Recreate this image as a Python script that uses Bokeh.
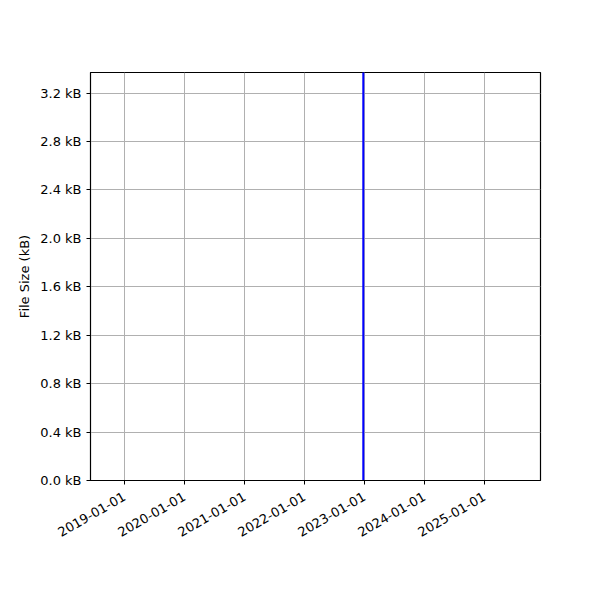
import math
from datetime import datetime
from bokeh.plotting import figure
from bokeh.models import (Range1d, FixedTicker, DatetimeTickFormatter, PrintfTickFormatter)
from bokeh.embed import file_html
from bokeh.resources import INLINE

# data
dates = [datetime(2022, 12, 25), datetime(2022, 12, 25)]
sizes_kb = [0.0, 3.5]
x_tick_labels = ["2019-01-01", "2020-01-01", "2021-01-01", "2022-01-01",
                 "2023-01-01", "2024-01-01", "2025-01-01"]
y_ticks = [0.0, 0.4, 0.8, 1.2, 1.6, 2.0, 2.4, 2.8, 3.2]

def ms(d):
    return (d - datetime(1970, 1, 1)).total_seconds() * 1000.0

x_ticks = [ms(datetime.strptime(s, "%Y-%m-%d")) for s in x_tick_labels]

p = figure(x_axis_type="datetime", output_backend="svg", toolbar_location=None,
           frame_width=450, frame_height=408,
           min_border_left=90, min_border_right=44, min_border_top=72, min_border_bottom=104,
           x_range=Range1d(ms(datetime(2018, 6, 8)), ms(datetime(2025, 12, 8))),
           y_range=Range1d(0, 3.37))

p.line(x=dates, y=sizes_kb, line_color="#0000ff", line_width=2)

p.outline_line_color = "black"
p.outline_line_width = 1.2
p.background_fill_color = "white"
p.border_fill_color = "white"

for ax in (p.xaxis[0], p.yaxis[0]):
    ax.axis_line_color = "black"
    ax.axis_line_width = 1
    ax.major_tick_line_color = "black"
    ax.major_tick_out = 4
    ax.major_tick_in = 0
    ax.minor_tick_line_color = None
    ax.major_label_text_font = "DejaVu Sans"
    ax.major_label_text_font_size = "13px"
    ax.major_label_text_color = "black"

p.xaxis[0].ticker = FixedTicker(ticks=x_ticks)
p.xaxis[0].formatter = DatetimeTickFormatter(
    years="%Y-%m-%d", months="%Y-%m-%d", days="%Y-%m-%d", hours="%Y-%m-%d")
p.xaxis[0].major_label_orientation = math.pi / 6
p.xaxis[0].major_label_standoff = 11

p.yaxis[0].ticker = FixedTicker(ticks=y_ticks)
p.yaxis[0].formatter = PrintfTickFormatter(format="%.1f kB")
p.yaxis[0].axis_label = "File Size (kB)"
p.yaxis[0].axis_label_text_font = "DejaVu Sans"
p.yaxis[0].axis_label_text_font_size = "13px"
p.yaxis[0].axis_label_text_font_style = "normal"
p.yaxis[0].axis_label_text_color = "black"
p.yaxis[0].axis_label_standoff = 5

p.grid.grid_line_color = "#b0b0b0"
p.grid.grid_line_width = 1

open("out.html", "w").write(file_html(p, INLINE))
